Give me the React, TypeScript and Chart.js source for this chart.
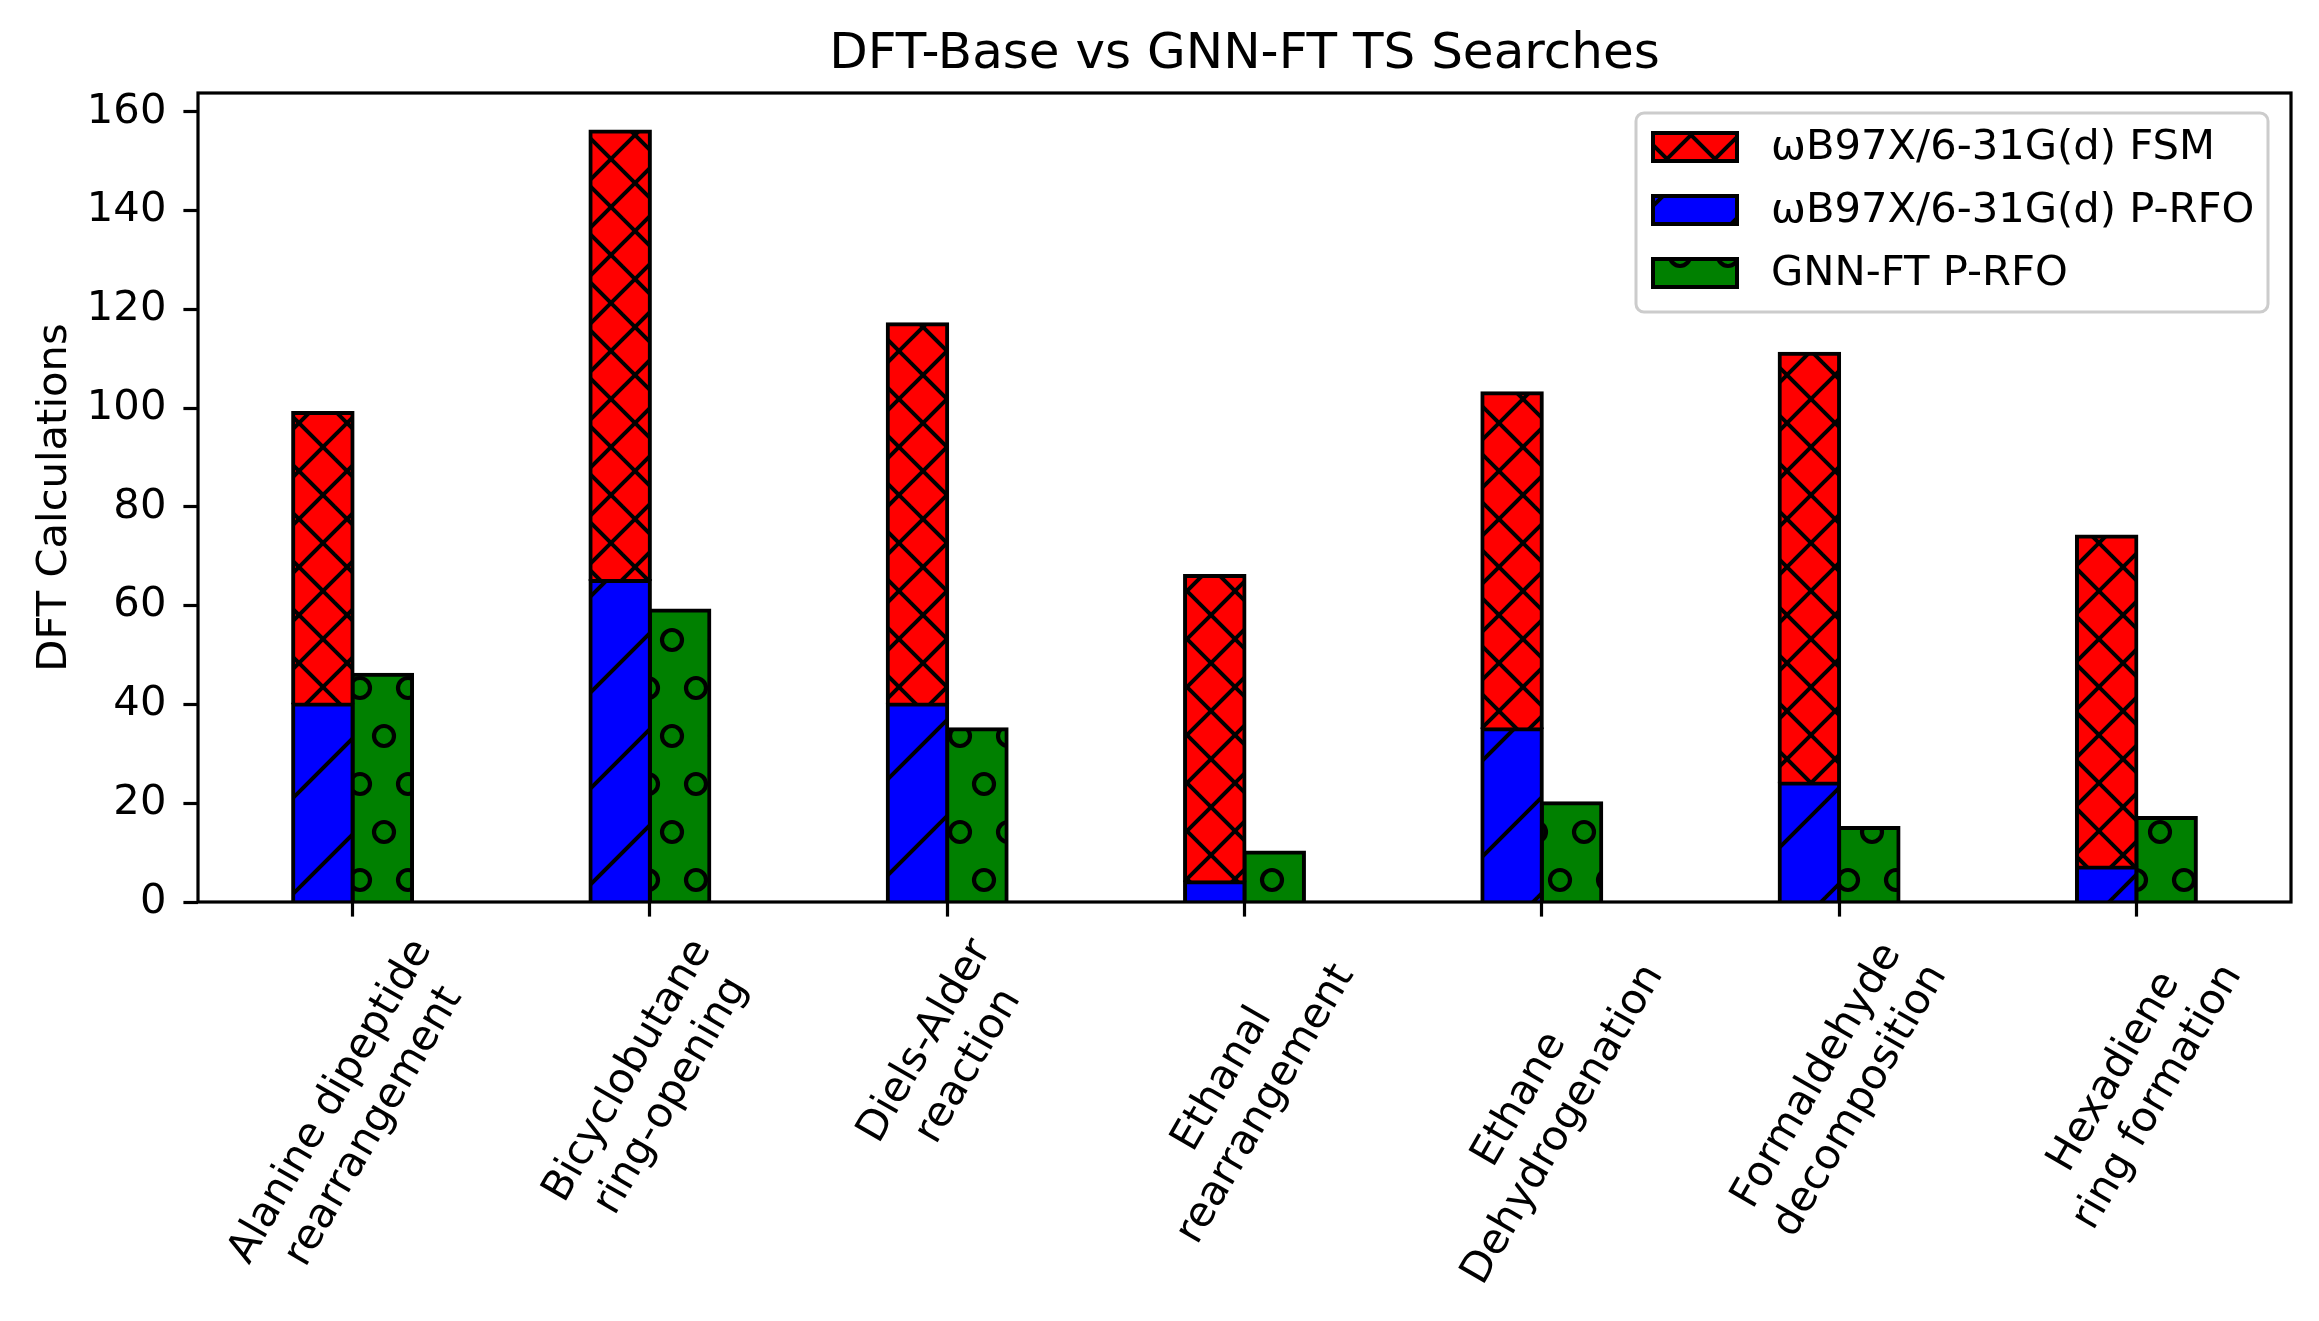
import React, { useEffect, useRef } from 'react';
import { Chart, registerables } from 'chart.js';

Chart.register(...registerables);

// ---------- data ----------
const categories: string[][] = [
  ['Alanine dipeptide', 'rearrangement'],
  ['Bicyclobutane', 'ring-opening'],
  ['Diels-Alder', 'reaction'],
  ['Ethanal', 'rearrangement'],
  ['Ethane', 'Dehydrogenation'],
  ['Formaldehyde', 'decomposition'],
  ['Hexadiene', 'ring formation'],
];
const fsmValues = [59, 91, 77, 62, 68, 87, 67];
const baseRfoValues = [40, 65, 40, 4, 35, 24, 7];
const gnnRfoValues = [46, 59, 35, 10, 20, 15, 17];
const seriesLabels = ['ωB97X/6-31G(d) FSM', 'ωB97X/6-31G(d) P-RFO', 'GNN-FT P-RFO'];
const yTickStep = 20;
const yMin = 0;
const yMax = 163.8;
const xMin = -0.52;
const xMax = 6.52;
const chartTitle = 'DFT-Base vs GNN-FT TS Searches';
const yTitle = 'DFT Calculations';

const FONT = '"DejaVu Sans", "Liberation Sans", sans-serif';
const TICK_PX = 41.7;
const TITLE_PX = 50;

// ---------- hatch patterns ----------
function makePattern(kind: 'x' | '/' | 'o', color: string): CanvasPattern {
  const c = document.createElement('canvas');
  let w = 48, h = 48;
  if (kind === '/') { w = 96; h = 96; }
  if (kind === 'o') { w = 48; h = 96; }
  c.width = w; c.height = h;
  const g = c.getContext('2d')!;
  g.fillStyle = color;
  g.fillRect(0, 0, w, h);
  g.strokeStyle = '#000';
  if (kind === 'x') {
    g.lineWidth = 4;
    const a = 2, b = 28;
    for (let k = -3; k <= 3; k++) {
      const c1 = a + k * w;
      g.beginPath(); g.moveTo(c1 + 20, -20); g.lineTo(c1 - w - 20, h + 20); g.stroke();
      const b1 = b + k * h;
      g.beginPath(); g.moveTo(-20, b1 - 20); g.lineTo(w + 20, b1 + w + 20); g.stroke();
    }
  } else if (kind === '/') {
    g.lineWidth = 4;
    const a = 35;
    for (let k = -3; k <= 3; k++) {
      const c1 = a + k * w;
      g.beginPath(); g.moveTo(c1 + 20, -20); g.lineTo(c1 - w - 20, h + 20); g.stroke();
    }
  } else {
    g.lineWidth = 4.2;
    const pts = [[0, 64], [24, 16]];
    for (const [px, py] of pts) {
      for (let i = -1; i <= 1; i++) {
        for (let j = -1; j <= 1; j++) {
          g.beginPath();
          g.arc(px + i * w, py + j * h, 10, 0, Math.PI * 2);
          g.stroke();
        }
      }
    }
  }
  return g.createPattern(c, 'repeat')!;
}

// ---------- plugins ----------
const decorPlugin = {
  id: 'decor',
  afterDraw(chart: any) {
    const ctx: CanvasRenderingContext2D = chart.ctx;
    const area = chart.chartArea;
    const xs = chart.scales.x;

    // frame (spines)
    ctx.save();
    ctx.strokeStyle = '#000';
    ctx.lineWidth = 3.2;
    ctx.strokeRect(area.left, area.top, area.right - area.left, area.bottom - area.top);
    ctx.restore();

    // title centred over the axes
    ctx.save();
    ctx.font = `${TITLE_PX}px ${FONT}`;
    ctx.fillStyle = '#000';
    ctx.textAlign = 'center';
    ctx.textBaseline = 'middle';
    ctx.fillText(chartTitle, (area.left + area.right) / 2, 55);
    ctx.restore();

    // x tick labels (rotated 60°, centered on tick)
    ctx.save();
    ctx.font = `${TICK_PX}px ${FONT}`;
    ctx.fillStyle = '#000';
    ctx.textAlign = 'center';
    ctx.textBaseline = 'middle';
    const ang = (60 * Math.PI) / 180;
    const lineGap = TICK_PX * 1.2;
    categories.forEach((lines, i) => {
      const x = xs.getPixelForValue(i);
      const W = Math.max(...lines.map((l) => ctx.measureText(l).width));
      const blockH = lineGap * (lines.length - 1) + TICK_PX * 1.17;
      const bh = W * Math.sin(ang) + blockH * Math.cos(ang);
      const cy = area.bottom + 14.6 + 14.6 + bh / 2;
      ctx.save();
      ctx.translate(x, cy);
      ctx.rotate(-ang);
      lines.forEach((l, k) => ctx.fillText(l, 0, (k - (lines.length - 1) / 2) * lineGap));
      ctx.restore();
    });
    ctx.restore();

    // legend
    const ds = chart.data.datasets;
    const order = [1, 0, 2];
    const lx = 1636, ly = 113, lw = 632, lh = 199;
    ctx.save();
    ctx.beginPath();
    (ctx as any).roundRect(lx, ly, lw, lh, 8);
    ctx.fillStyle = 'rgba(255,255,255,0.8)';
    ctx.fill();
    ctx.strokeStyle = '#cccccc';
    ctx.lineWidth = 3;
    ctx.stroke();
    ctx.font = `${TICK_PX}px ${FONT}`;
    ctx.textAlign = 'left';
    ctx.textBaseline = 'middle';
    order.forEach((di, r) => {
      const cy = 147 + r * 63;
      ctx.fillStyle = ds[di].backgroundColor;
      ctx.fillRect(1653, cy - 14, 84, 28);
      ctx.strokeStyle = '#000';
      ctx.lineWidth = 4;
      ctx.strokeRect(1653, cy - 14, 84, 28);
      ctx.fillStyle = '#000';
      ctx.fillText(ds[di].label, 1771, cy + 1);
    });
    ctx.restore();
  },
};

export default function App() {
  const ref = useRef<HTMLCanvasElement>(null);

  useEffect(() => {
    const canvas = ref.current!;
    const red = makePattern('x', '#ff0000');
    const blue = makePattern('/', '#0000ff');
    const green = makePattern('o', '#008000');

    const common = {
      borderColor: '#000000',
      borderWidth: 4,
      borderSkipped: 'start',
      inflateAmount: 2,
      categoryPercentage: 0.4,
      barPercentage: 1.0,
    };

    const chart = new Chart(canvas, {
      type: 'bar',
      data: {
        datasets: [
          {
            ...common,
            label: seriesLabels[1],
            data: baseRfoValues.map((v, i) => ({ x: i, y: v })),
            backgroundColor: blue,
            stack: 'dft',
          },
          {
            ...common,
            label: seriesLabels[0],
            data: fsmValues.map((v, i) => ({ x: i, y: v })),
            backgroundColor: red,
            stack: 'dft',
          },
          {
            ...common,
            label: seriesLabels[2],
            data: gnnRfoValues.map((v, i) => ({ x: i, y: v })),
            backgroundColor: green,
            stack: 'gnn',
          },
        ] as any,
      },
      options: {
        animation: false,
        responsive: false,
        devicePixelRatio: 1,
        layout: { padding: { left: 0, right: 28, top: 93, bottom: 0 } },
        plugins: {
          legend: { display: false },
          tooltip: { enabled: false },
          title: { display: false },
        },
        scales: {
          x: {
            type: 'linear',
            min: xMin,
            max: xMax,
            offset: false,
            border: { display: false },
            grid: {
              display: true,
              offset: false,
              drawOnChartArea: false,
              drawTicks: true,
              tickLength: 14.6,
              tickWidth: 3.2,
              tickColor: '#000',
              color: '#000',
            },
            ticks: { display: false, stepSize: 1, includeBounds: false },
            afterFit: (s: any) => { s.height = 419; },
          },
          y: {
            type: 'linear',
            min: yMin,
            max: yMax,
            stacked: true,
            border: { display: false },
            grid: {
              display: true,
              drawOnChartArea: false,
              drawTicks: true,
              tickLength: 14.6,
              tickWidth: 3.2,
              tickColor: '#000',
              color: '#000',
            },
            ticks: {
              stepSize: yTickStep,
              includeBounds: false,
              color: '#000',
              padding: 17,
              font: { family: FONT, size: TICK_PX },
            },
            title: {
              display: true,
              text: yTitle,
              color: '#000',
              font: { family: FONT, size: TICK_PX },
              padding: { top: 30, bottom: 0 },
            },
            afterFit: (s: any) => { s.width = 198; },
          },
        },
      } as any,
      plugins: [decorPlugin],
    });
    return () => chart.destroy();
  }, []);

  return (
    <div style={{ position: 'fixed', left: 0, top: 0, width: 2319, height: 1321, background: '#ffffff' }}>
      <canvas ref={ref} width={2319} height={1321} style={{ display: 'block', width: 2319, height: 1321 }} />
    </div>
  );
}
